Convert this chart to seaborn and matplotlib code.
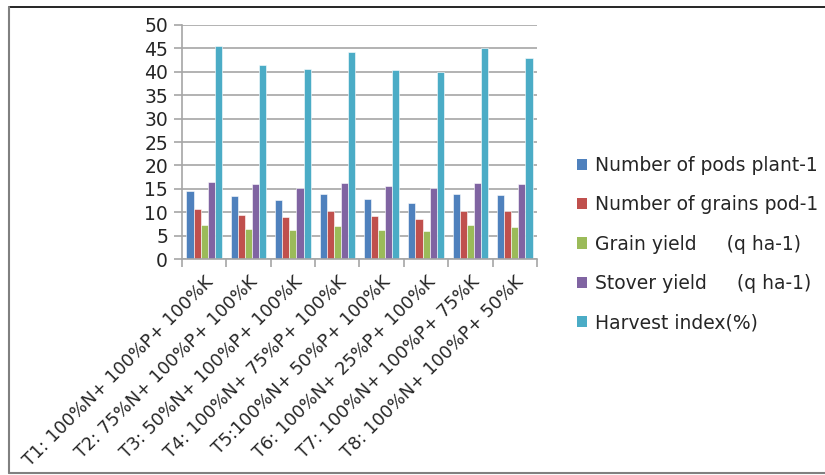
import matplotlib
matplotlib.use("Agg")
import matplotlib.pyplot as plt
from matplotlib.patches import Patch
from matplotlib.lines import Line2D
from matplotlib.ticker import FixedLocator
import seaborn as sns
import pandas as pd

treatments = [
    "T1: 100%N+ 100%P+ 100%K",
    "T2: 75%N+ 100%P+ 100%K",
    "T3: 50%N+ 100%P+ 100%K",
    "T4: 100%N+ 75%P+ 100%K",
    "T5:100%N+ 50%P+ 100%K",
    "T6: 100%N+ 25%P+ 100%K",
    "T7: 100%N+ 100%P+ 75%K",
    "T8: 100%N+ 100%P+ 50%K",
]
series_names = [
    "Number of pods plant-1",
    "Number of grains pod-1",
    "Grain yield     (q ha-1)",
    "Stover yield     (q ha-1)",
    "Harvest index(%)",
]
pods_per_plant = [14.6, 13.5, 12.6, 14.0, 12.8, 12.1, 14.0, 13.7]
grains_per_pod = [10.7, 9.5, 9.0, 10.2, 9.3, 8.6, 10.2, 10.2]
grain_yield = [7.4, 6.5, 6.3, 7.2, 6.3, 6.0, 7.4, 6.9]
stover_yield = [16.5, 16.0, 15.3, 16.3, 15.6, 15.1, 16.3, 16.0]
harvest_index = [45.4, 41.4, 40.5, 44.2, 40.3, 40.0, 45.0, 43.0]
colors = ["#4F81BD", "#C0504D", "#9BBB59", "#8064A2", "#4BACC6"]

all_values = [pods_per_plant, grains_per_pod, grain_yield, stover_yield, harvest_index]
rows = []
for name, vals in zip(series_names, all_values):
    for t, v in zip(treatments, vals):
        rows.append({"Treatment": t, "Parameter": name, "Value": v})
df = pd.DataFrame(rows)

sns.set_theme(style="white")
plt.rcParams["font.family"] = ["DejaVu Sans"]

fig = plt.figure(figsize=(8.25, 4.75), dpi=100)
ax = fig.add_axes([0.2206, 0.454, 0.4303, 0.494])

sns.barplot(data=df, x="Treatment", y="Value", hue="Parameter",
            order=treatments, hue_order=series_names, palette=colors,
            width=0.8, saturation=1, edgecolor="white", linewidth=0.4,
            legend=False, ax=ax)

ax.set_ylim(0, 50)
ax.set_xlim(-0.5, len(treatments) - 0.5)
ax.set_yticks(range(0, 51, 5))
ax.yaxis.grid(True, color="#a6a6a6", linewidth=1.2)
ax.set_axisbelow(True)
ax.set_xlabel("")
ax.set_ylabel("")
for side in ["top", "right"]:
    ax.spines[side].set_visible(False)
for side in ["left", "bottom"]:
    ax.spines[side].set_color("#a6a6a6")
    ax.spines[side].set_linewidth(1.2)

ax.tick_params(axis="y", which="major", length=6, width=1.2, color="#a6a6a6",
               labelsize=13.5, pad=4, left=True)
ax.tick_params(axis="x", which="major", length=0, pad=10)
ax.xaxis.set_minor_locator(FixedLocator([i - 0.5 for i in range(len(treatments) + 1)]))
ax.tick_params(axis="x", which="minor", length=6, width=1.2, color="#a6a6a6", bottom=True)
ax.set_xticks(range(len(treatments)))
ax.set_xticklabels(treatments, rotation=45, ha="right", rotation_mode="anchor",
                   fontsize=12.7)

handles = [Patch(facecolor=c, edgecolor="none") for c in colors]
fig.legend(handles, series_names, loc="upper left", bbox_to_anchor=(0.679, 0.707),
           frameon=False, fontsize=13.5, handlelength=0.55, handleheight=0.55,
           handletextpad=0.4, labelspacing=1.08)

# outer frame
fig.add_artist(Line2D([9 / 825, 1.0], [1 - 7 / 475, 1 - 7 / 475],
                      transform=fig.transFigure, color="black", linewidth=1.2))
fig.add_artist(Line2D([9 / 825, 9 / 825], [1 - 7 / 475, 1 - 473 / 475],
                      transform=fig.transFigure, color="#808080", linewidth=1.5))
fig.add_artist(Line2D([9 / 825, 1.0], [1 - 473 / 475, 1 - 473 / 475],
                      transform=fig.transFigure, color="#808080", linewidth=1.5))

fig.savefig("out.png", dpi=100)
